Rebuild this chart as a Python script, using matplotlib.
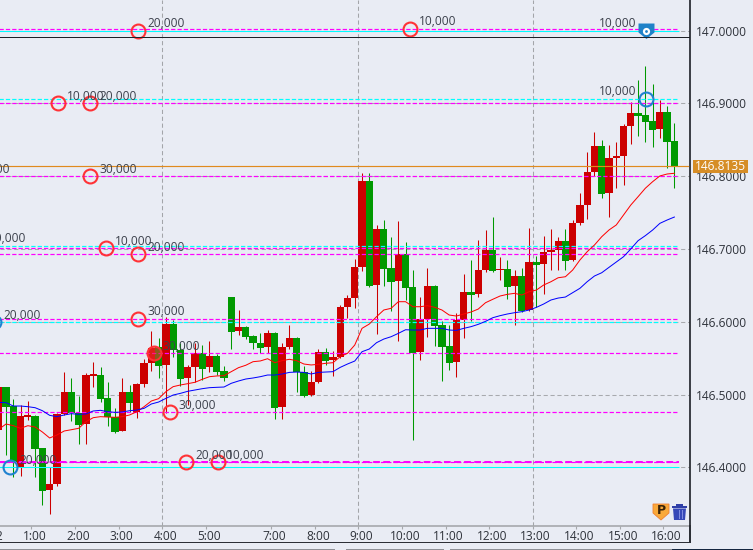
import matplotlib
matplotlib.use("Agg")
import matplotlib.pyplot as plt
import numpy as np
from matplotlib.transforms import Affine2D, ScaledTranslation
from matplotlib.patches import Polygon, Rectangle
from matplotlib.path import Path

# ---------- data ----------
opens = [146.4513,146.5098,146.4842,146.4000,146.4695,146.4705,146.4261,146.3689,146.3771,146.4728,
 146.5034,146.4742,146.4595,146.5259,146.5268,146.4952,146.4687,146.4504,146.5034,146.4760,
 146.5144,146.5433,146.5657,146.5410,146.5969,146.5611,146.5227,146.5383,146.5566,146.5373,
 146.5529,146.5323,146.6335,146.5877,146.5927,146.5804,146.5708,146.5657,146.5845,146.4833,
 146.5657,146.5776,146.5309,146.4993,146.5172,146.5584,146.5474,146.5515,146.6202,146.6325,
 146.6751,146.7933,146.6504,146.7269,146.6738,146.6564,146.6925,146.6476,146.5584,146.6037,
 146.6490,146.5955,146.5666,146.5446,146.6023,146.6408,146.6380,146.6710,146.6985,146.6710,
 146.6724,146.6490,146.6628,146.6161,146.6820,146.6792,146.6957,146.6985,146.7108,146.6847,
 146.7356,146.7603,146.8056,146.8413,146.7768,146.8249,146.8276,146.8688,146.8867,146.8839,
 146.8757,146.8647,146.8880,146.8482]
closes = [146.5098,146.4833,146.4078,146.4705,146.4714,146.4257,146.3679,146.3771,146.4728,146.5034,
 146.4742,146.4582,146.5268,146.5273,146.4943,146.4687,146.4485,146.5034,146.4888,146.5144,
 146.5433,146.5634,146.5392,146.5969,146.5611,146.5218,146.5383,146.5566,146.5355,146.5529,
 146.5309,146.5231,146.5863,146.5927,146.5795,146.5703,146.5643,146.5845,146.4819,146.5652,
 146.5776,146.5309,146.4979,146.5172,146.5584,146.5460,146.5515,146.6202,146.6325,146.6751,
 146.7933,146.6490,146.7269,146.6724,146.6545,146.6930,146.6463,146.5570,146.6037,146.6490,
 146.5941,146.5652,146.5433,146.6023,146.6408,146.6367,146.6710,146.6985,146.6696,146.6724,
 146.6477,146.6628,146.6147,146.6820,146.6783,146.6957,146.6985,146.7108,146.6834,146.7356,
 146.7603,146.8056,146.8413,146.7754,146.8249,146.8276,146.8688,146.8867,146.8825,146.8743,
 146.8633,146.8880,146.8468,146.8135]
highs = [146.5150,146.5098,146.4933,146.4856,146.4915,146.4719,146.4270,146.4009,146.4742,146.5314,
 146.5231,146.4984,146.5291,146.5447,146.5373,146.5176,146.4810,146.5222,146.5135,146.5153,
 146.5483,146.5872,146.5772,146.6060,146.6023,146.5703,146.5405,146.5703,146.5680,146.5735,
 146.5557,146.5396,146.6344,146.6161,146.5935,146.5818,146.5850,146.5886,146.5859,146.5712,
 146.5955,146.5785,146.5396,146.5327,146.5621,146.5639,146.5598,146.6229,146.6367,146.6861,
 146.8038,146.8038,146.7328,146.7397,146.7163,146.7383,146.7095,146.6710,146.6339,146.6738,
 146.6500,146.6009,146.5955,146.6115,146.6655,146.6847,146.7122,146.7259,146.7438,146.6889,
 146.6847,146.6710,146.6733,146.7287,146.6902,146.7177,146.7269,146.7168,146.7269,146.7397,
 146.7763,146.8331,146.8606,146.8496,146.8427,146.8468,146.8715,146.9018,146.9320,146.9512,
 146.9265,146.9045,146.8963,146.8729]
lows = [146.4450,146.4169,146.3863,146.3886,146.4650,146.3872,146.3482,146.3359,146.3748,146.4720,
 146.4641,146.4320,146.4320,146.5108,146.4902,146.4572,146.4476,146.4495,146.4764,146.4682,
 146.5108,146.5328,146.5231,146.4742,146.5520,146.5117,146.4856,146.5176,146.5199,146.5314,
 146.5268,146.5186,146.5630,146.5817,146.5758,146.5621,146.5566,146.5566,146.4668,146.4668,
 146.5625,146.5034,146.4970,146.4985,146.5165,146.5410,146.5254,146.5505,146.6046,146.6188,
 146.6696,146.6476,146.5831,146.6490,146.6147,146.5735,146.6298,146.4375,146.5474,146.5790,
 146.5666,146.5185,146.5336,146.5240,146.5776,146.6009,146.6339,146.6688,146.6688,146.6573,
 146.6312,146.5954,146.6140,146.6150,146.6202,146.6380,146.6710,146.6710,146.6710,146.6834,
 146.7328,146.7411,146.8001,146.7699,146.7438,146.7836,146.7878,146.8441,146.8551,146.8468,
 146.8400,146.8523,146.8111,146.7841]
ma_fast = [146.4523,146.4595,146.4572,146.4536,146.4572,146.4554,146.4485,146.4403,146.4444,146.4499,
 146.4517,146.4536,146.4627,146.4682,146.4696,146.4691,146.4687,146.4696,146.4719,146.4764,
 146.4833,146.4911,146.4943,146.5039,146.5108,146.5131,146.5149,146.5168,146.5209,146.5245,
 146.5255,146.5259,146.5314,146.5369,146.5402,146.5451,146.5461,146.5492,146.5437,146.5465,
 146.5484,146.5465,146.5419,146.5406,146.5415,146.5429,146.5437,146.5520,146.5566,146.5680,
 146.5909,146.5968,146.6069,146.6161,146.6184,146.6275,146.6275,146.6206,146.6206,146.6220,
 146.6198,146.6161,146.6092,146.6078,146.6106,146.6133,146.6174,146.6261,146.6308,146.6353,
 146.6376,146.6390,146.6367,146.6412,146.6435,146.6504,146.6549,146.6604,146.6618,146.6710,
 146.6848,146.6962,146.7054,146.7168,146.7260,146.7329,146.7466,146.7603,146.7717,146.7833,
 146.7923,146.8002,146.8029,146.8039]
ma_slow = [146.4892,146.4888,146.4842,146.4842,146.4833,146.4819,146.4778,146.4714,146.4696,146.4719,
 146.4737,146.4728,146.4733,146.4774,146.4783,146.4764,146.4755,146.4760,146.4778,146.4787,
 146.4810,146.4870,146.4897,146.4947,146.4993,146.5016,146.5044,146.5062,146.5080,146.5094,
 146.5099,146.5103,146.5154,146.5186,146.5213,146.5227,146.5245,146.5268,146.5268,146.5282,
 146.5304,146.5309,146.5304,146.5282,146.5304,146.5309,146.5314,146.5373,146.5419,146.5460,
 146.5588,146.5625,146.5712,146.5762,146.5794,146.5840,146.5890,146.5886,146.5886,146.5909,
 146.5909,146.5909,146.5886,146.5881,146.5909,146.5932,146.5964,146.6005,146.6055,146.6083,
 146.6106,146.6124,146.6138,146.6161,146.6197,146.6243,146.6298,146.6325,146.6339,146.6399,
 146.6459,146.6550,146.6628,146.6673,146.6747,146.6820,146.6893,146.6999,146.7113,146.7182,
 146.7259,146.7351,146.7397,146.7438]

hour_idx = [5,11,17,23,29,38,44,50,56,62,68,74,80,86,92]
hour_lbl = ["1:00","2:00","3:00","4:00","5:00","7:00","8:00","9:00","10:00","11:00","12:00","13:00","14:00","15:00","16:00"]
vgrid_idx = [23,50,74]
price_ticks = [146.4,146.5,146.6,146.7,146.8,146.9,147.0]
last_price = 146.8135

order_magenta = [147.0025,146.9,146.8,146.7008,146.6926,146.6044,146.5566,146.4756,146.4073]
order_cyan = [146.9063,146.7044,146.5992]
order_cyan_solid = [147.0,146.4004]

sig_red_x = [19.16,56.61,8.15,12.55,12.55,14.76,19.16,19.16,23.53,25.77,30.18,-4.93,-2.7]
sig_red_y = [147.0,147.0025,146.9,146.9,146.8,146.7008,146.6926,146.6044,146.4756,146.4073,146.4073,146.8,146.7044]
sig_red_q = ["20,000","10,000","10,000","20,000","30,000","10,000","20,000","30,000","30,000","20,000","10,000","30,000","20,000"]
sig_fill_x, sig_fill_y, sig_fill_q = [21.32], [146.5566], ["30,000"]
sig_blue_x = [1.54,-0.66,89.06]
sig_blue_y = [146.4004,146.5992,146.9063]
sig_blue_q = ["20,000","20,000","10,000"]
pin_x, pin_y, pin_q = 89.06, 147.0, "10,000"

# ---------- layout ----------
W, H = 753, 550
BG = "#E9ECF4"
TXT = "#2E323A"
plt.rcParams["font.family"] = "Open Sans"
fig = plt.figure(figsize=(W/100, H/100), dpi=100, facecolor=BG)
ax = fig.add_axes([0, 1-525.5/H, 690/W, 525.5/H], facecolor=BG)
ax.set_xlim(0.165, 95.15)
ax.set_ylim(146.3201, 147.0419)
px = Affine2D().scale(1, -1).translate(0, H)   # icon drawing in image pixels

for s in ("top", "left"):
    ax.spines[s].set_visible(False)
ax.spines["bottom"].set_color("#A6A8AC")
ax.spines["bottom"].set_linewidth(1.2)
ax.spines["right"].set_color("#2C2F36")
ax.spines["right"].set_linewidth(1.3)

ax.yaxis.tick_right()
ax.set_yticks(price_ticks)
ax.set_yticklabels([f"{p:.4f}" for p in price_ticks], fontsize=8.6, color=TXT)
ax.tick_params(axis="y", length=0, pad=4)
ax.set_xticks(np.array(hour_idx) - 0.5)
ax.set_xticklabels(hour_lbl, fontsize=8.6, color=TXT)
ax.tick_params(axis="x", length=1.8, width=0.8, color="#A6A8AC", pad=1.5)
shift = ScaledTranslation(3/100, 0, fig.dpi_scale_trans)
for lb in ax.get_xticklabels():
    lb.set_transform(lb.get_transform() + shift)
ax.annotate("8/22", xy=(-1.5, 0), xycoords=ax.get_xaxis_transform(), xytext=(3, -10.5),
            textcoords="offset pixels", ha="center", va="center", fontsize=8.6, color=TXT,
            annotation_clip=False)

# grid
for p in price_ticks:
    ax.axhline(p, color="#A8AAAE", lw=0.75, ls=(0, (4, 2.6)), zorder=1)
for i in vgrid_idx:
    ax.axvline(i - 0.5, color="#A3A5A9", lw=0.75, ls=(0, (4, 2.6)), zorder=1)

# candles
idx = np.arange(len(opens))
o, c, h, l = map(np.array, (opens, closes, highs, lows))
up = c >= o
cols = np.where(up, "#CC0000", "#009900")
ax.vlines(idx, l, h, colors=cols, lw=0.75, zorder=2, snap=True)
ax.bar(idx, np.maximum(np.abs(c - o), 0.002), bottom=np.minimum(o, c), width=1.0, color=cols, lw=0, zorder=3)

# order lines end just after the last candle
xend = (679 + 1.2) / 7.264
DASH = (0, (3.5, 1.7))
ax.hlines(order_cyan, -2, xend, colors="#00FFFF", lw=0.88, ls=DASH, zorder=4, snap=True)
ax.hlines(order_cyan_solid, -2, xend, colors="#00FFFF", lw=0.75, zorder=4, snap=True)
ax.hlines(order_magenta, -2, xend, colors="#FF00FF", lw=0.88, ls=DASH, zorder=4, snap=True)
ax.hlines(order_magenta[-1], -2, xend, colors="#FF00FF", lw=1.4, ls=DASH, zorder=4, snap=True)

# moving averages
ax.plot(idx, ma_fast, color="#FF0000", lw=0.72, zorder=5)
ax.plot(idx, ma_slow, color="#0000FF", lw=0.72, zorder=5)

# last price
ax.plot([-2, (687.7 + 1.2) / 7.264], [last_price] * 2, color="#E08A1E", lw=0.85, zorder=5)
fig.add_artist(Rectangle((693, 160), 55, 12.8, transform=px, fc="#D68D26", ec="none", zorder=3))
fig.text(695.3/W, 1-166.3/H, f"{last_price:.4f}", color="white", fontsize=8.6, ha="left", va="center", zorder=4)

def label(x, y, q, left=False):
    ax.annotate(q, xy=(x, y), xytext=(-9 if left else 9, 7), textcoords="offset pixels",
                ha="right" if left else "left", va="center", fontsize=8.6, color="#3C414C",
                zorder=8, annotation_clip=False)

MS, MEW = 10, 1.5
ax.plot(sig_red_x, sig_red_y, ls="none", marker="o", ms=MS, mew=MEW, mfc="none", mec="#FF3236", zorder=7)
ax.plot(sig_fill_x, sig_fill_y, ls="none", marker="o", ms=MS, mew=MEW, mfc="#F0303090", mec="#FF3236", zorder=7)
ax.plot(sig_blue_x, sig_blue_y, ls="none", marker="o", ms=MS, mew=MEW, mfc="none", mec="#1F82D0", zorder=7)
for x, y, q in zip(sig_red_x + sig_fill_x, sig_red_y + sig_fill_y, sig_red_q + sig_fill_q):
    label(x, y, q)
label(sig_blue_x[0], sig_blue_y[0], sig_blue_q[0])
label(sig_blue_x[1], sig_blue_y[1], sig_blue_q[1])
label(sig_blue_x[2], sig_blue_y[2], sig_blue_q[2], left=True)

# position pin
pin = Path([(-8, 8), (8, 8), (8, -1), (0, -7.5), (-8, -1), (-8, 8)], closed=True)
ax.plot([pin_x], [pin_y], marker=pin, ms=11.5, mfc="#1F82C8", mec="none", ls="none", zorder=7, clip_on=False)
ax.plot([pin_x], [pin_y], marker="o", ms=5.2, mfc="white", mec="none", ls="none", zorder=7)
ax.plot([pin_x], [pin_y], marker="o", ms=2.0, mfc="#1F82C8", mec="none", ls="none", zorder=7)
label(pin_x, pin_y, pin_q, left=True)

# frame pieces
fig.add_artist(Rectangle((0, 36.5), 690, 1.2, transform=px, fc="#1E2026", ec="none"))
fig.add_artist(Rectangle((0, 541.6), 690, 1.3, transform=px, fc="#2C2F36", ec="none"))
fig.add_artist(Rectangle((689.3, 525), 1.3, 17.5, transform=px, fc="#2C2F36", ec="none"))
fig.add_artist(Rectangle((0, 549), 335, 1, transform=px, fc="#8E9096", ec="none"))
fig.add_artist(Rectangle((346, 549), 98, 1, transform=px, fc="#8E9096", ec="none"))
fig.add_artist(Rectangle((450, 549), 222, 1, transform=px, fc="#8E9096", ec="none"))
fig.add_artist(Rectangle((672, 549), 81, 1, transform=px, fc="#14263F", ec="none"))

# P icon
fig.add_artist(Polygon([(653, 504), (669, 504), (669, 513), (661, 520), (653, 513)], closed=True,
                       transform=px, fc="#F9A93A", ec="#F08030", lw=0.6))
fig.text(661/W, 1-510.5/H, "P", fontsize=9, fontweight="bold", color="#3A2206", ha="center", va="center", family="DejaVu Sans")

# trash icon
fig.add_artist(Rectangle((671.5, 506), 15.5, 1.8, transform=px, fc="#2F3FA8", ec="none"))
fig.add_artist(Rectangle((676, 504), 6.5, 2, transform=px, fc="#2F3FA8", ec="none"))
fig.add_artist(Polygon([(673, 508.5), (686, 508.5), (685, 520), (674, 520)], closed=True, transform=px, fc="#3648B8", ec="none"))
for bx in (676.5, 679.3, 682.1):
    fig.add_artist(Rectangle((bx, 510), 0.9, 9, transform=px, fc="#7F8CE0", ec="none"))

fig.savefig("out.png", dpi=100, facecolor=BG)
